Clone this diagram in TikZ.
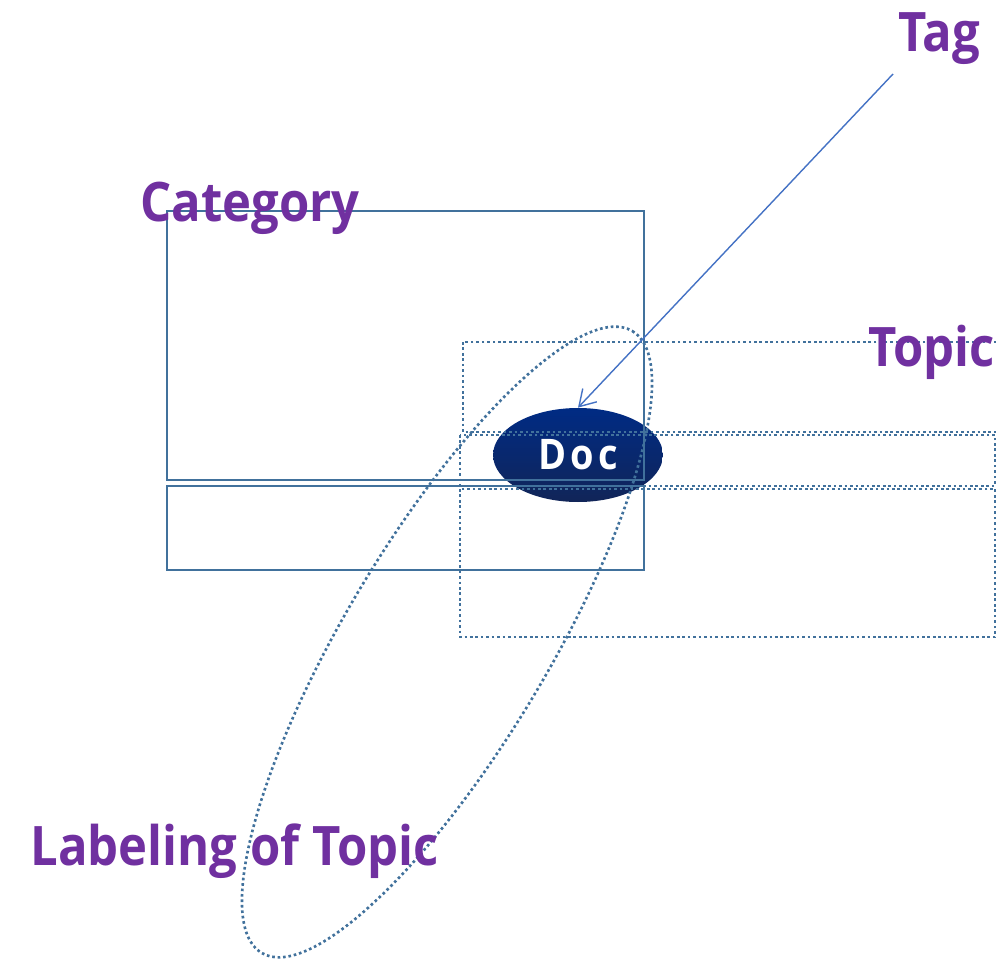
\documentclass[tikz,border=0pt]{standalone}
\usepackage{fontspec}
\setmainfont{Open Sans}
\newfontfamily\titlefont{Open Sans}[FakeStretch=0.9]
\usetikzlibrary{positioning, arrows.meta, shapes.geometric}
\definecolor{labelcolor}{RGB}{112,48,160}
\definecolor{boxcolor}{RGB}{65,113,156}
\definecolor{arrowcolor}{RGB}{68,114,196}
\definecolor{doctop}{RGB}{0,43,132}
\definecolor{docbottom}{RGB}{17,37,88}
\tikzset{
  bigtitle/.style={font=\titlefont\fontsize{31}{36}\selectfont\bfseries, text=labelcolor, inner sep=0pt, anchor=base west},
  solidbox/.style={draw=boxcolor, line width=1.5pt},
  dotbox/.style={draw=boxcolor, line width=1.5pt, dash pattern=on 1.5pt off 1.6pt},
  arrowline/.style={draw=arrowcolor, line width=0.8pt, -{Straight Barb[length=9pt, width=11pt]}}
}

\begin{document}
\begin{tikzpicture}[x=0.02cm, y=-0.02cm]
    \useasboundingbox (0,0) rectangle (996,959);

    % Document (drawn first, the boxes lie over it)
    \node[ellipse, minimum width=96.7pt, minimum height=53.5pt, inner sep=0pt,
          top color=doctop, bottom color=docbottom, text=white,
          font=\titlefont\fontsize{24}{28}\selectfont\bfseries] (doc) at (578,455)
          {D\kern2.5pt o\kern2.5pt c};

    % Category
    \draw[solidbox] (167,211) rectangle (644,480);
    \draw[solidbox] (167,486) rectangle (644,570);

    % Topic
    \draw[dotbox] (463,342) rectangle (1010,432);
    \draw[dotbox] (460,435) rectangle (995,486);
    \draw[dotbox] (460,489) rectangle (995,637);

    % Labeling of Topic
    \draw[dotbox, rotate around={59.2:(447,642)}] (447,642) ellipse [x radius=362, y radius=102];

    % Tag
    \coordinate (tagtail) at (893,74);
    \draw[arrowline] (tagtail) -- (doc.north);

    % Titres
    \node[bigtitle] (tag) at (898,52) {Tag};
    \node[bigtitle] (category) at (140,222) {Category};
    \node[bigtitle] (topic) at (868,366) {Topic};
    \node[bigtitle] (labeling) at (30,865) {Labeling of Topic};
\end{tikzpicture}
\end{document}
